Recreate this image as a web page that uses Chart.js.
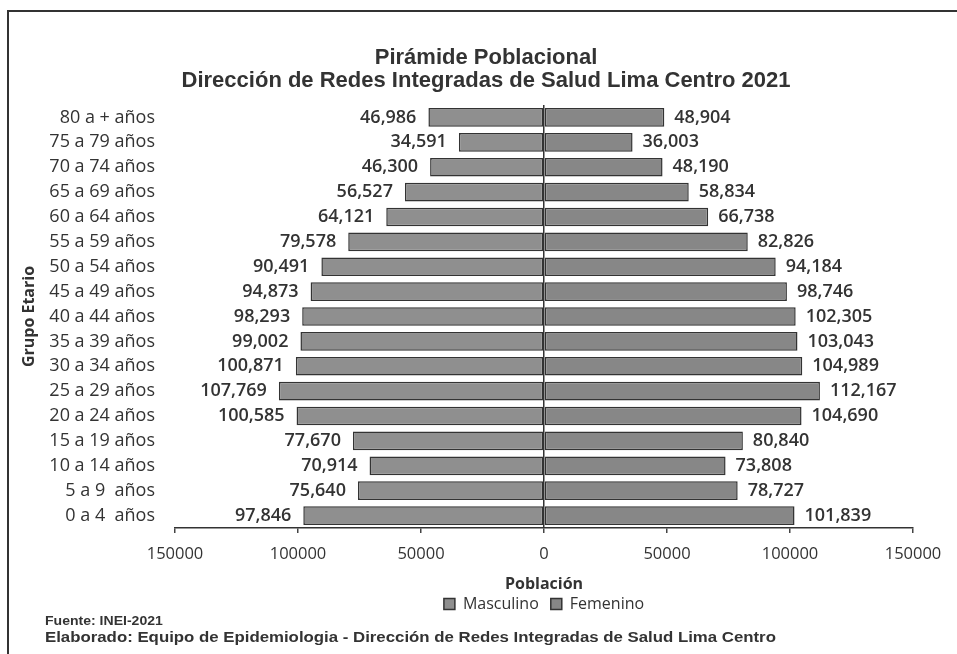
<!DOCTYPE html>
<html>
<head>
<meta charset="utf-8">
<script src="https://cdn.jsdelivr.net/npm/chart.js@4/dist/chart.umd.min.js"></script>
<style>
  html, body { margin: 0; background: #fff; overflow: hidden; }
  #wrap { position: relative; width: 957px; height: 654px; overflow: hidden; }
  .rule { position: absolute; background: #333; }
  #title { position: absolute; left: 86px; width: 800px; top: 45px; text-align: center;
           font: bold 22px "Liberation Sans", Arial, sans-serif; color: #333; line-height: 23px; }
  .foot { position: absolute; left: 45px; font: bold 13.5px "Liberation Sans", Arial, sans-serif;
          color: #333; transform-origin: left top; white-space: nowrap; }
  canvas { position: absolute; left: 0; top: 0; }
</style>
</head>
<body>
<div id="wrap">
  <div class="rule" style="left:7px; top:10px; width:950px; height:2px"></div>
  <div class="rule" style="left:7px; top:10px; width:2px; height:644px"></div>
  <canvas id="pyramid" width="957" height="654"></canvas>
  <div id="title">Pirámide Poblacional<br>Dirección de Redes Integradas de Salud Lima Centro 2021</div>
  <div class="foot" style="top:613px; transform:scaleX(1.04)">Fuente: INEI-2021</div>
  <div class="foot" style="top:629px; font-size:14px; transform:scaleX(1.2)">Elaborado: Equipo de Epidemiologia - Dirección de Redes Integradas de Salud Lima Centro</div>
</div>
<script>
const ageGroups = [
  "80 a + años", "75 a 79 años", "70 a 74 años", "65 a 69 años", "60 a 64 años",
  "55 a 59 años", "50 a 54 años", "45 a 49 años", "40 a 44 años", "35 a 39 años",
  "30 a 34 años", "25 a 29 años", "20 a 24 años", "15 a 19 años", "10 a 14 años",
  "5 a 9  años", "0 a 4  años"
];
const masculino = [
  46986, 34591, 46300, 56527, 64121, 79578, 90491, 94873, 98293, 99002,
  100871, 107769, 100585, 77670, 70914, 75640, 97846
];
const femenino = [
  48904, 36003, 48190, 58834, 66738, 82826, 94184, 98746, 102305, 103043,
  104989, 112167, 104690, 80840, 73808, 78727, 101839
];
const xTicks = [-150000, -100000, -50000, 0, 50000, 100000, 150000];

const fmt = (v) => Math.abs(v).toLocaleString("en-US");

// value labels at the outer end of each bar
const barLabels = {
  id: "barLabels",
  afterDatasetsDraw(chart) {
    const ctx = chart.ctx;
    ctx.save();
    ctx.font = "600 18px 'Open Sans'";
    ctx.fillStyle = "#333";
    ctx.textBaseline = "middle";
    chart.data.datasets.forEach((ds, i) => {
      const meta = chart.getDatasetMeta(i);
      meta.data.forEach((bar, j) => {
        const v = ds.data[j];
        if (v < 0) {
          ctx.textAlign = "right";
          ctx.fillText(fmt(v), bar.x - 12, bar.y);
        } else {
          ctx.textAlign = "left";
          ctx.fillText(fmt(v), bar.x + 10, bar.y);
        }
      });
    });
    ctx.restore();
  }
};

new Chart(document.getElementById("pyramid"), {
  type: "bar",
  data: {
    labels: ageGroups,
    datasets: [
      {
        label: "Masculino",
        data: masculino.map((v) => -v),
        backgroundColor: "#8f8f8f",
        borderColor: "#333",
        borderWidth: 1.5,
        borderSkipped: false,
        barPercentage: 0.75,
        categoryPercentage: 1
      },
      {
        label: "Femenino",
        data: femenino,
        backgroundColor: "#878787",
        borderColor: "#333",
        borderWidth: 1.5,
        borderSkipped: false,
        barPercentage: 0.75,
        categoryPercentage: 1
      }
    ]
  },
  options: {
    indexAxis: "y",
    responsive: false,
    animation: false,
    layout: { padding: { left: 10, right: 44, top: 105, bottom: 32 } },
    plugins: {
      title: { display: false },
      tooltip: { enabled: false },
      legend: {
        position: "bottom",
        fullSize: false,
        labels: {
          font: { family: "Open Sans", size: 16 },
          color: "#333",
          boxWidth: 11,
          boxHeight: 11,
          padding: 12
        }
      }
    },
    scales: {
      x: {
        stacked: true,
        min: -150000,
        max: 150000,
        afterBuildTicks: (scale) => { scale.ticks = xTicks.map((v) => ({ value: v })); },
        afterFit: (scale) => { scale.height = 56; },
        ticks: {
          callback: (v) => String(Math.abs(v)),
          font: { family: "Open Sans", size: 16.5 },
          color: "#333",
          padding: 11,
          maxRotation: 0
        },
        grid: {
          z: 1,
          color: (c) => (c.tick && c.tick.value === 0 ? "#333" : "rgba(0,0,0,0)"),
          tickColor: "#444",
          tickLength: 5,
          lineWidth: 1.5
        },
        border: { display: true, color: "#333", width: 1.5, z: 2 },
        title: {
          display: true,
          text: "Población",
          font: { family: "Open Sans", size: 16, weight: "bold" },
          color: "#333",
          padding: { top: 0, bottom: -10 }
        }
      },
      y: {
        stacked: true,
        afterFit: (scale) => { scale.width = 165; },
        ticks: {
          autoSkip: false,
          font: { family: "Open Sans", size: 18 },
          color: "#333",
          padding: 12
        },
        grid: { display: false },
        border: { display: false },
        title: {
          display: true,
          text: "Grupo Etario",
          font: { family: "Open Sans", size: 16, weight: "bold" },
          color: "#333",
          padding: { top: 10, bottom: 0 }
        }
      }
    }
  },
  plugins: [barLabels]
});
</script>
</body>
</html>
